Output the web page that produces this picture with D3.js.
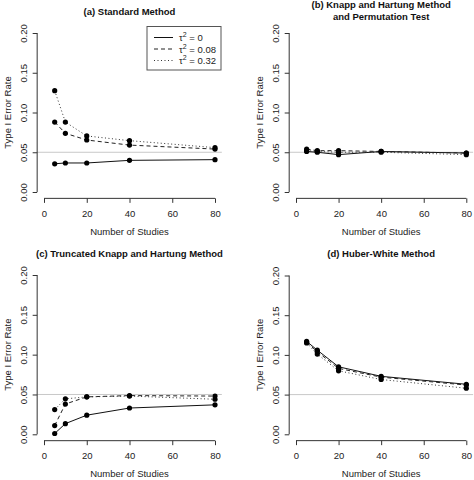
<!DOCTYPE html>
<html><head><meta charset="utf-8">
<script src="https://cdn.jsdelivr.net/npm/d3@7"></script>
<style>body{margin:0;background:#fff}svg{display:block;font-family:"Liberation Sans",Arial,sans-serif}</style>
</head><body><svg id="c" width="474" height="480"></svg>
<script>
const studies = [5, 10, 20, 40, 80];
const xTicks = [0, 20, 40, 60, 80];
const yTicks = [0.00, 0.05, 0.10, 0.15, 0.20];
const seriesNames = ["0", "0.08", "0.32"];
// panel (a) Standard Method
const aTau0   = [0.0355, 0.0365, 0.0365, 0.0398, 0.0407];
const aTau008 = [0.088, 0.0738, 0.0654, 0.059, 0.054];
const aTau032 = [0.1275, 0.088, 0.0705, 0.0646, 0.0558];
// panel (b) Knapp and Hartung / Permutation
const bTau0   = [0.051, 0.050, 0.047, 0.051, 0.049];
const bTau008 = [0.054, 0.052, 0.052, 0.051, 0.049];
const bTau032 = [0.052, 0.051, 0.050, 0.050, 0.047];
// panel (c) Truncated Knapp and Hartung
const cTau0   = [0.001, 0.0134, 0.024, 0.033, 0.037];
const cTau008 = [0.011, 0.038, 0.047, 0.0486, 0.048];
const cTau032 = [0.031, 0.0445, 0.047, 0.048, 0.044];
// panel (d) Huber-White
const dTau0   = [0.117, 0.106, 0.085, 0.073, 0.063];
const dTau008 = [0.116, 0.104, 0.083, 0.072, 0.062];
const dTau032 = [0.115, 0.101, 0.080, 0.069, 0.058];

const panels = [
  {title:["(a) Standard Method"], series:[aTau0,aTau008,aTau032], xr:[44,215], yr:[192,33], legend:true},
  {title:["(b) Knapp and Hartung Method","and Permutation Test"], series:[bTau0,bTau008,bTau032], xr:[296,466.3], yr:[192,33]},
  {title:["(c) Truncated Knapp and Hartung Method"], series:[cTau0,cTau008,cTau032], xr:[44,215], yr:[434.3,275]},
  {title:["(d) Huber-White Method"], series:[dTau0,dTau008,dTau032], xr:[296,466.3], yr:[434.3,275.5]}
];
const dashes = [null, "4,3", "1,2.5"];
const lineCol = ["#111", "#222", "#333"];
const svg = d3.select("#c");
const fs = "9.5px";

panels.forEach(p => {
  const x = d3.scaleLinear().domain([0,80]).range(p.xr);
  const y = d3.scaleLinear().domain([0,0.2]).range(p.yr);
  const left = x(-3.2), right = x(83.2), bottom = y(-0.008), top = y(0.208);
  const g = svg.append("g");
  // reference line
  g.append("line").attr("x1", left).attr("x2", right).attr("y1", y(0.05)).attr("y2", y(0.05))
    .attr("stroke", "#c8c8c8").attr("stroke-width", 1);
  // y axis
  const ya = d3.axisLeft(y).tickValues(yTicks).tickFormat(d3.format(".2f")).tickSize(4.5).tickPadding(3);
  const yg = g.append("g").attr("transform", `translate(${left},0)`).call(ya);
  yg.select(".domain").attr("d", `M0,${y(0)}V${y(0.2)}`).attr("stroke", "#333");
  yg.selectAll(".tick line").attr("stroke", "#333");
  yg.selectAll(".tick text").attr("x", -14).attr("dy", null).attr("dominant-baseline", "central")
    .attr("text-anchor", "middle").attr("transform", "rotate(-90)")
    .each(function(){ const t=d3.select(this); const ty = +t.node().parentNode.getAttribute("transform").match(/,([-\d.]+)/)[1]; })
    .style("font-size", fs).attr("fill", "#222").attr("font-family", null);
  yg.selectAll(".tick text").attr("transform", "rotate(-90) ").attr("x", 0).attr("y", -14)
    .attr("dominant-baseline", "central");
  yg.attr("font-family", null).attr("font-size", null);
  // x axis
  const xa = d3.axisBottom(x).tickValues(xTicks).tickFormat(d3.format("d")).tickSize(4.5).tickPadding(7);
  const xg = g.append("g").attr("transform", `translate(0,${bottom})`).call(xa);
  xg.select(".domain").attr("d", `M${x(0)},0H${x(80)}`).attr("stroke", "#333");
  xg.selectAll(".tick line").attr("stroke", "#333");
  xg.selectAll(".tick text").style("font-size", fs).attr("fill", "#222");
  xg.attr("font-family", null).attr("font-size", null);
  // axis titles
  g.append("text").attr("x", (left+right)/2).attr("y", bottom + 33).attr("text-anchor", "middle")
    .attr("dominant-baseline", "central").style("font-size", fs).attr("fill", "#222").text("Number of Studies");
  g.append("text").attr("transform", `translate(${left-30},${(top+bottom)/2}) rotate(-90)`).attr("text-anchor", "middle")
    .attr("dominant-baseline", "central").style("font-size", fs).attr("fill", "#222").text("Type I Error Rate");
  // title
  const tY = p.title.length === 2 ? [top - 22, top - 10.5] : [top - 15.5];
  p.title.forEach((t,i) => {
    g.append("text").attr("x", (left+right)/2).attr("y", tY[i]).attr("text-anchor", "middle")
      .attr("dominant-baseline", "central").style("font-size", fs).attr("font-weight", "bold").attr("fill", "#111").text(t);
  });
  // series
  const line = d3.line().x((d,i) => x(studies[i])).y(d => y(d));
  p.series.forEach((s, k) => {
    g.append("path").attr("d", line(s)).attr("fill", "none").attr("stroke", lineCol[k])
      .attr("stroke-width", 1).attr("stroke-dasharray", dashes[k]);
  });
  p.series.forEach((s, k) => {
    g.selectAll(null).data(s).enter().append("circle")
      .attr("cx", (d,i) => x(studies[i])).attr("cy", d => y(d)).attr("r", 2.6).attr("fill", "#000");
  });
  if (p.legend) {
    const lx = 147, ly = 26.5, lw = 74, lh = 43.5;
    g.append("rect").attr("x", lx).attr("y", ly).attr("width", lw).attr("height", lh)
      .attr("fill", "#fff").attr("stroke", "#555").attr("stroke-width", 1);
    seriesNames.forEach((n, k) => {
      const yy = ly + 11 + k * 11.5;
      g.append("line").attr("x1", lx + 7).attr("x2", lx + 26).attr("y1", yy).attr("y2", yy)
        .attr("stroke", lineCol[k]).attr("stroke-width", 1).attr("stroke-dasharray", dashes[k]);
      const t = g.append("text").attr("x", lx + 32).attr("y", yy + 3.5).style("font-size", fs).attr("fill", "#222");
      t.append("tspan").text("τ");
      t.append("tspan").attr("dy", -4).style("font-size", "7px").text("2");
      t.append("tspan").attr("dy", 4).text(" = " + n);
    });
  }
});
</script></body></html>
